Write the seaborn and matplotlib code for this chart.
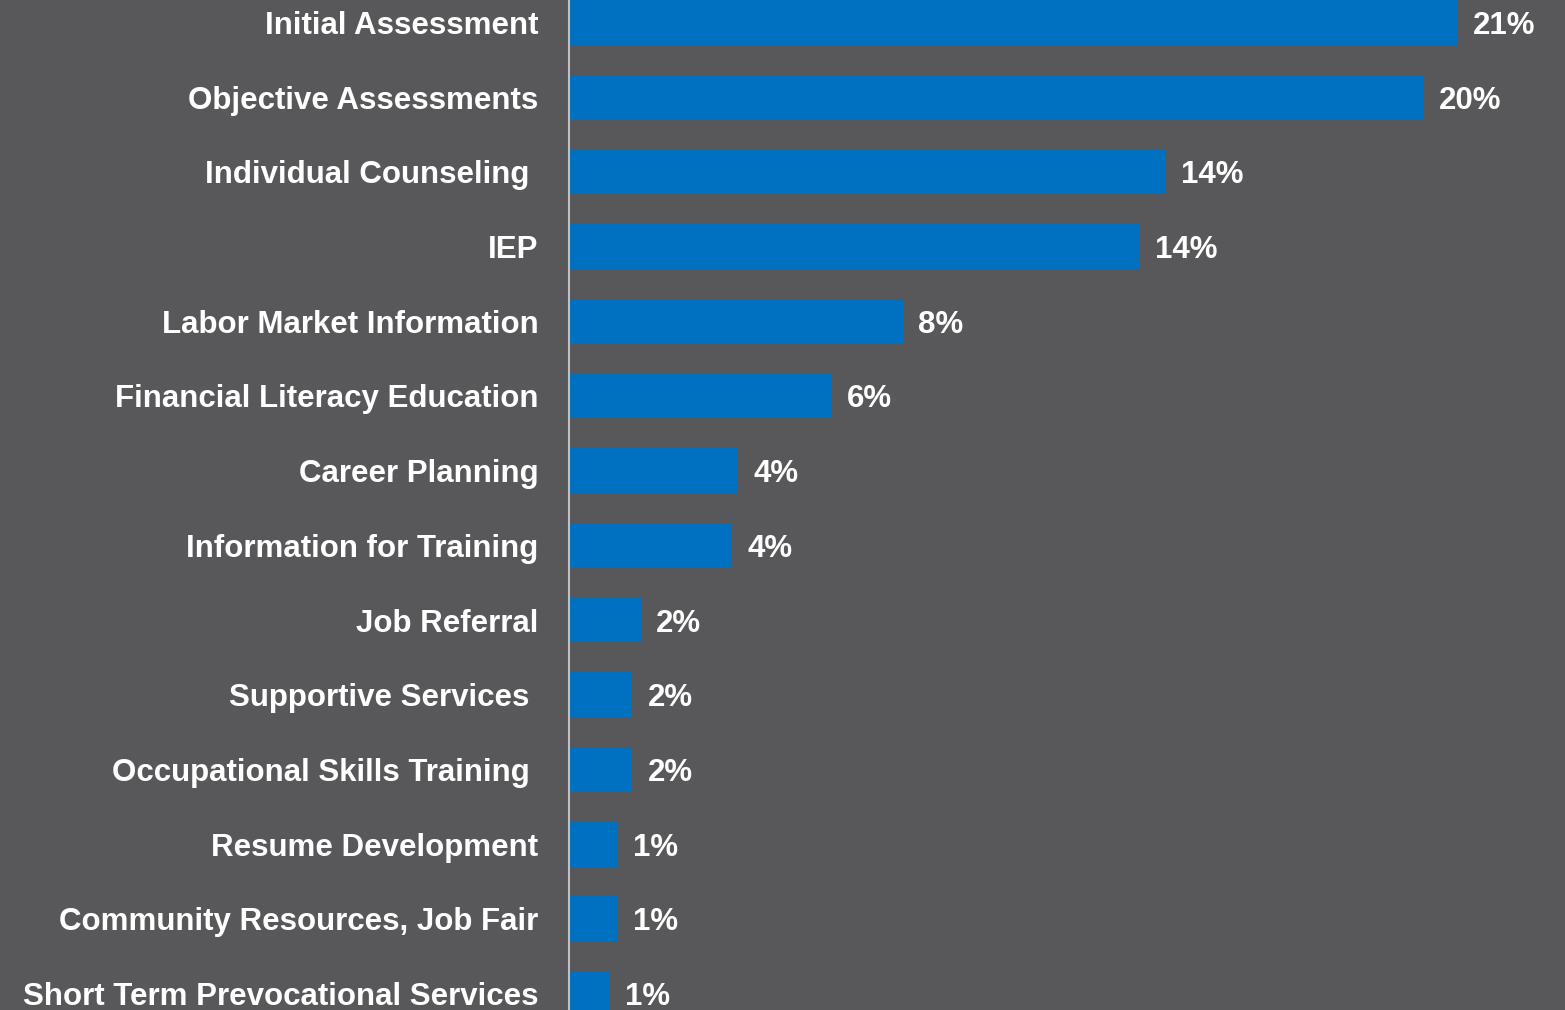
import matplotlib
matplotlib.use("Agg")
import matplotlib.pyplot as plt
import seaborn as sns
import pandas as pd

# Datos
servicios = [
    "Initial Assessment",
    "Objective Assessments",
    "Individual Counseling ",
    "IEP",
    "Labor Market Information",
    "Financial Literacy Education",
    "Career Planning",
    "Information for Training",
    "Job Referral",
    "Supportive Services ",
    "Occupational Skills Training ",
    "Resume Development",
    "Community Resources, Job Fair",
    "Short Term Prevocational Services",
]
porcentajes = [21.0, 20.2, 14.1, 13.5, 7.9, 6.2, 4.0, 3.85, 1.7, 1.5, 1.5, 1.15, 1.15, 0.97]
etiquetas = ["21%", "20%", "14%", "14%", "8%", "6%", "4%", "4%", "2%", "2%", "2%", "1%", "1%", "1%"]

df = pd.DataFrame({"servicio": servicios, "pct": porcentajes})

fondo = "#58585A"
azul = "#0070C0"

sns.set_theme(style="white")
plt.rcParams["font.family"] = ["Liberation Sans", "DejaVu Sans"]

fig = plt.figure(figsize=(15.65, 10.10), dpi=100, facecolor=fondo)
ax = fig.add_axes([569 / 1565, 0, (1565 - 569) / 1565, 1])
ax.set_facecolor(fondo)

sns.barplot(data=df, x="pct", y="servicio", color=azul, width=0.6,
            saturation=1, ax=ax, edgecolor="none")

ax.set_xlim(0, 996 / 42.3)
ax.set_ylim(13.22, -0.30)

for i, (v, t) in enumerate(zip(porcentajes, etiquetas)):
    ax.annotate(t, (v, i), xytext=(11, -2.5), textcoords="offset points",
                va="center", ha="left", color="white",
                fontsize=22.5, fontweight="bold")

ax.set_xlabel("")
ax.set_ylabel("")
ax.set_xticks([])
ax.tick_params(axis="y", length=0, pad=22, labelsize=22.5, labelcolor="white")
for lab in ax.get_yticklabels():
    lab.set_fontweight("bold")

for s in ["top", "right", "bottom"]:
    ax.spines[s].set_visible(False)
ax.spines["left"].set_color("#BFBFBF")
ax.spines["left"].set_linewidth(1.5)

fig.savefig("out.png", dpi=100, facecolor=fondo)
